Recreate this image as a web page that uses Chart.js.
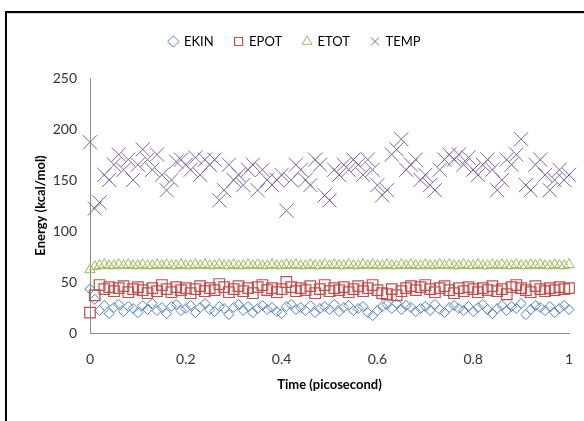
<!DOCTYPE html>
<html>
<head>
<meta charset="utf-8">
<script src="https://cdn.jsdelivr.net/npm/chart.js@4.4.1/dist/chart.umd.min.js"></script>
<style>
  html, body { margin: 0; padding: 0; background: #fff; }
  #wrap { position: relative; width: 584px; height: 421px; }
</style>
</head>
<body>
<div id="wrap"><canvas id="energyChart" width="584" height="421"></canvas></div>
<script>
// time in picoseconds (0.01 ps frames)
const times = [
  0, 0.01, 0.02, 0.03, 0.04, 0.05, 0.06, 0.07, 0.08, 0.09,
  0.1, 0.11, 0.12, 0.13, 0.14, 0.15, 0.16, 0.17, 0.18, 0.19,
  0.2, 0.21, 0.22, 0.23, 0.24, 0.25, 0.26, 0.27, 0.28, 0.29,
  0.3, 0.31, 0.32, 0.33, 0.34, 0.35, 0.36, 0.37, 0.38, 0.39,
  0.4, 0.41, 0.42, 0.43, 0.44, 0.45, 0.46, 0.47, 0.48, 0.49,
  0.5, 0.51, 0.52, 0.53, 0.54, 0.55, 0.56, 0.57, 0.58, 0.59,
  0.6, 0.61, 0.62, 0.63, 0.64, 0.65, 0.66, 0.67, 0.68, 0.69,
  0.7, 0.71, 0.72, 0.73, 0.74, 0.75, 0.76, 0.77, 0.78, 0.79,
  0.8, 0.81, 0.82, 0.83, 0.84, 0.85, 0.86, 0.87, 0.88, 0.89,
  0.9, 0.91, 0.92, 0.93, 0.94, 0.95, 0.96, 0.97, 0.98, 0.99,
  1
];

const ekin = [
  43, 33, 22, 27, 19, 25, 28, 21, 26, 24,
  20, 27, 23, 29, 22, 25, 19, 26, 28, 22,
  24, 27, 20, 25, 29, 23, 21, 26, 24, 18,
  25, 28, 22, 26, 20, 24, 27, 23, 25, 21,
  19, 26, 28, 23, 25, 22, 27, 20, 24, 26,
  23, 28, 21, 25, 27, 22, 24, 26, 20, 17,
  22, 26, 28, 24, 29, 23, 27, 25, 21, 24,
  26, 22, 28, 23, 20, 25, 27, 24, 22, 26,
  21, 25, 28, 23, 19, 24, 27, 22, 26, 24,
  29, 18, 23, 27, 25, 22, 26, 20, 24, 27,
  23
];

const epot = [
  20, 37, 47, 43, 45, 41, 44, 46, 40, 43,
  45, 42, 39, 44, 41, 47, 43, 40, 45, 42,
  44, 39, 43, 46, 41, 44, 42, 48, 45, 40,
  43, 46, 41, 44, 39, 45, 47, 42, 44, 40,
  43, 50, 45, 41, 44, 42, 46, 39, 43, 47,
  41, 44, 42, 45, 40, 43, 46, 41, 44, 47,
  42, 39, 38, 43, 37, 41, 44, 46, 42, 45,
  47, 43, 40, 44, 46, 42, 39, 44, 41, 45,
  43, 40, 44, 42, 46, 41, 43, 38, 45, 47,
  44, 42, 40, 46, 43, 41, 44, 42, 45, 43,
  44
];

const etot = [
  62, 65, 66, 67, 66, 66, 67, 66, 67, 66,
  66, 67, 66, 66, 67, 66, 67, 66, 66, 67,
  66, 66, 67, 66, 67, 66, 66, 67, 66, 66,
  67, 66, 66, 67, 66, 67, 66, 66, 67, 66,
  66, 67, 66, 67, 66, 66, 67, 66, 66, 67,
  66, 67, 66, 66, 67, 66, 66, 67, 66, 67,
  66, 66, 67, 66, 66, 67, 66, 67, 66, 66,
  67, 66, 66, 67, 66, 67, 66, 66, 67, 66,
  66, 67, 66, 66, 67, 66, 67, 66, 66, 67,
  66, 66, 67, 66, 67, 66, 66, 67, 66, 66,
  67
];

const temp = [
  187, 122, 128, 155, 150, 165, 175, 160, 170, 150,
  165, 180, 170, 160, 175, 155, 140, 150, 168, 170,
  165, 160, 172, 155, 170, 165, 170, 130, 140, 165,
  150, 155, 145, 160, 165, 140, 160, 150, 145, 150,
  155, 120, 150, 165, 160, 150, 145, 170, 165, 135,
  130, 160, 155, 165, 160, 170, 165, 155, 170, 160,
  145, 135, 140, 175, 180, 190, 160, 165, 170, 150,
  155, 145, 140, 160, 170, 175, 170, 175, 165, 172,
  160, 155, 165, 170, 160, 140, 150, 170, 165, 175,
  190, 145, 140, 165, 170, 155, 140, 150, 160, 150,
  155
];

const seriesNames = ['EKIN', 'EPOT', 'ETOT', 'TEMP'];
const seriesColors = ['#4F81BD', '#C0504D', '#9BBB59', '#8064A2'];

const toPoints = (vals) => times.map((t, i) => ({ x: t, y: vals[i] }));

// black frame around the plot like the original figure
const frame = {
  id: 'frame',
  beforeDraw(chart) {
    const ctx = chart.ctx;
    ctx.save();
    ctx.fillStyle = '#fff';
    ctx.fillRect(0, 0, chart.width, chart.height);
    ctx.fillStyle = '#d9d9d9';
    ctx.fillRect(7, 13, chart.width - 7, 1);
    ctx.fillStyle = '#000';
    ctx.fillRect(5, 11, chart.width - 5, 2);
    ctx.fillRect(5, 11, 2, chart.height - 11);
    ctx.restore();
  }
};

// extra room under the legend
const legendGap = {
  id: 'legendGap',
  beforeInit(chart) {
    const fit = chart.legend.fit;
    chart.legend.fit = function () {
      fit.bind(chart.legend)();
      this.height += 20;
    };
  }
};

const font = 'Lato, "Open Sans", sans-serif';

let ctx = document.getElementById('energyChart').getContext('2d');
new Chart(ctx, {
  type: 'scatter',
  plugins: [frame, legendGap],
  data: {
    datasets: [
      {
        label: seriesNames[0],
        data: toPoints(ekin),
        pointStyle: 'rectRot',
        pointRadius: 5,
        borderColor: seriesColors[0],
        backgroundColor: 'rgba(0,0,0,0)',
        borderWidth: 1,
        clip: false,
      },
      {
        label: seriesNames[1],
        data: toPoints(epot),
        pointStyle: 'rect',
        pointRadius: 7.5,
        borderColor: seriesColors[1],
        backgroundColor: 'rgba(0,0,0,0)',
        borderWidth: 1.2,
        clip: false,
      },
      {
        label: seriesNames[2],
        data: toPoints(etot),
        pointStyle: 'triangle',
        pointRadius: 6,
        borderColor: seriesColors[2],
        backgroundColor: 'rgba(0,0,0,0)',
        borderWidth: 1,
        clip: false,
      },
      {
        label: seriesNames[3],
        data: toPoints(temp),
        pointStyle: 'crossRot',
        pointRadius: 10,
        borderColor: seriesColors[3],
        backgroundColor: 'rgba(0,0,0,0)',
        borderWidth: 1,
        clip: false,
      },
    ],
  },
  options: {
    responsive: false,
    animation: false,
    layout: { autoPadding: false, padding: { left: 21, right: 15, top: 14, bottom: 0 } },
    plugins: {
      tooltip: { enabled: false },
      legend: {
        position: 'top',
        labels: {
          usePointStyle: true,
          boxWidth: 8,
          boxHeight: 8,
          padding: 21,
          color: '#000',
          font: { family: font, size: 13 },
        },
      },
    },
    scales: {
      x: {
        type: 'linear',
        min: 0,
        max: 1,
        afterFit: (s) => {
          s.height = 88;
          s.paddingLeft = 0;
          s.paddingRight = 0;
        },
        grid: { display: false, drawTicks: false },
        border: { display: true, color: '#8c8c8c', width: 1 },
        ticks: {
          stepSize: 0.2,
          padding: 18,
          color: '#333',
          font: { family: font, size: 14 },
          callback: (v) => String(Math.round(v * 10) / 10),
        },
        title: {
          display: true,
          text: 'Time (picosecond)',
          color: '#000',
          padding: { top: 0, bottom: 28 },
          font: { family: font, size: 13, weight: 'bold' },
        },
      },
      y: {
        min: 0,
        max: 250,
        afterFit: (s) => { s.width = 69; },
        grid: { display: false, drawTicks: false },
        border: { display: true, color: '#8c8c8c', width: 1 },
        ticks: { stepSize: 50, padding: 13, color: '#333', font: { family: font, size: 14 } },
        title: {
          display: true,
          text: 'Energy (kcal/mol)',
          color: '#000',
          padding: { top: 12, bottom: 0 },
          font: { family: font, size: 13, weight: 'bold' },
        },
      },
    },
  },
});
</script>
</body>
</html>
